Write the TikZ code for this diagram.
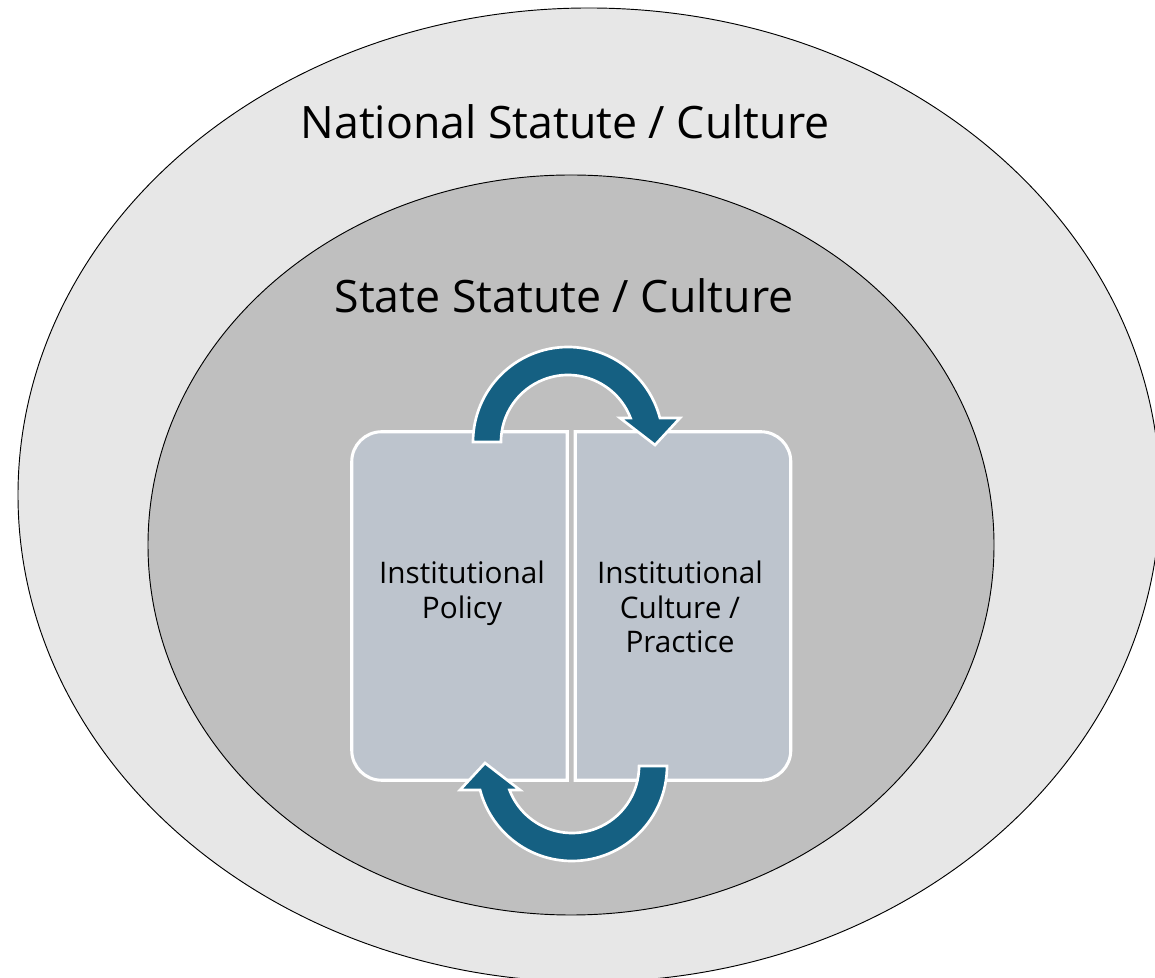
\documentclass[tikz,border=0pt]{standalone}
\usepackage{fontspec}
\setmainfont{Open Sans}
\definecolor{outergray}{HTML}{E7E7E7}
\definecolor{innergray}{HTML}{BFBFBF}
\definecolor{boxfill}{HTML}{BDC4CD}
\definecolor{arrowblue}{HTML}{156082}
\tikzset{
  ellsty/.style={draw=black, line width=0.7pt},
  boxnode/.style={draw=none, inner sep=0pt, minimum width=161.25pt, minimum height=261pt},
  boxsty/.style={fill=boxfill, draw=white, line width=2.3pt},
  title/.style={font=\fontsize{33.5}{40}\selectfont, inner sep=0pt},
  boxtext/.style={font=\fontsize{22.3}{25.8}\selectfont, align=center, inner sep=0pt, anchor=north},
  pics/cyclearrow/.style={code={
    \filldraw[fill=arrowblue, draw=white, line width=2pt, line join=miter]
      (-95,0) arc[start angle=180, end angle=14.6, radius=95]
      -- (112,24) -- (87,-3) -- (52,24) -- (62.5,24)
      arc[start angle=21, end angle=180, radius=67] -- cycle;
  }}
}
\begin{document}
\begin{tikzpicture}[x=0.75pt, y=0.75pt]
\useasboundingbox (0,0) rectangle (1155,977);
\clip (0,0) rectangle (1155,977);
\fill[white] (0,0) rectangle (1155,977);
% ellipses
\filldraw[ellsty, fill=outergray] (589,482) ellipse[x radius=571, y radius=487];
\filldraw[ellsty, fill=innergray] (571,432) ellipse[x radius=423, y radius=370];
% titles
\node[title] (nat) at (565,855) {National Statute / Culture};
\node[title] (sta) at (564,681) {State Statute / Culture};
% boxes
\node[boxnode] (pol) at (459.5,371) {};
\node[boxnode] (cul) at (683,371) {};
\draw[boxsty] (pol.north east) -- ([xshift=22.5pt]pol.north west)
  arc[start angle=90, end angle=180, radius=30]
  -- ([yshift=22.5pt]pol.south west)
  arc[start angle=180, end angle=270, radius=30]
  -- (pol.south east) -- cycle;
\draw[boxsty] (cul.north west) -- ([xshift=-22.5pt]cul.north east)
  arc[start angle=90, end angle=0, radius=30]
  -- ([yshift=22.5pt]cul.south east)
  arc[start angle=0, end angle=-90, radius=30]
  -- (cul.south west) -- cycle;
\node[boxtext] (poltext) at (462,416) {Institutional\\Policy};
\node[boxtext] (cultext) at (680,416) {Institutional\\Culture /\\Practice};
% cycle arrows
\pic at (568,535) {cyclearrow};
\pic[rotate=180] at (572,211) {cyclearrow};
\end{tikzpicture}
\end{document}
